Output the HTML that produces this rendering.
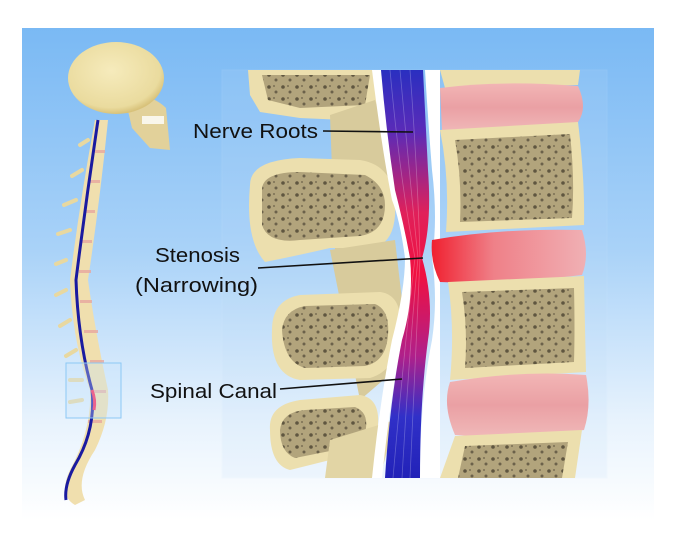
<!DOCTYPE html>
<html><head><meta charset="utf-8"><style>
html,body{margin:0;padding:0;background:#fff;}
svg{display:block;}
text{font-family:"Liberation Sans",sans-serif;fill:#111;}
</style></head><body>
<svg width="676" height="541" viewBox="0 0 676 541" xmlns="http://www.w3.org/2000/svg">
<defs>
<linearGradient id="bg" x1="0" y1="0" x2="0" y2="1">
<stop offset="0" stop-color="#7ab9f4"/><stop offset="0.45" stop-color="#a9d2f8"/><stop offset="0.8" stop-color="#e8f3fd"/><stop offset="1" stop-color="#ffffff"/>
</linearGradient>
<linearGradient id="cord" x1="0" y1="0" x2="0" y2="1">
<stop offset="0" stop-color="#2a2fc0"/><stop offset="0.15" stop-color="#5a2bb8"/><stop offset="0.35" stop-color="#e0205a"/><stop offset="0.5" stop-color="#f01040"/><stop offset="0.7" stop-color="#b0208a"/><stop offset="0.85" stop-color="#3030c8"/><stop offset="1" stop-color="#2222b8"/>
</linearGradient>
<linearGradient id="disc" x1="0" y1="0" x2="0" y2="1">
<stop offset="0" stop-color="#f2b5b5"/><stop offset="0.5" stop-color="#eaa0a4"/><stop offset="1" stop-color="#f0b8b8"/>
</linearGradient>
<linearGradient id="disc2" x1="0" y1="0" x2="1" y2="0">
<stop offset="0" stop-color="#f02030"/><stop offset="0.4" stop-color="#ef8088"/><stop offset="1" stop-color="#f0b0b4"/>
</linearGradient>
<radialGradient id="skull" cx="0.45" cy="0.4" r="0.6">
<stop offset="0" stop-color="#f6ebbc"/><stop offset="0.85" stop-color="#eadb9e"/><stop offset="1" stop-color="#d8c27a"/>
</radialGradient>
<pattern id="dots" width="14" height="12" patternUnits="userSpaceOnUse">
<rect width="14" height="12" fill="#b2a47c"/><circle cx="3" cy="3" r="1.8" fill="#5f5640"/><circle cx="10" cy="8" r="1.5" fill="#6b614a"/><circle cx="8" cy="2" r="1" fill="#7a6f55"/>
</pattern>
</defs>
<rect x="22" y="28" width="632" height="492" fill="url(#bg)"/>
<rect x="222" y="70" width="385" height="408" fill="#bfdcf8" opacity="0.15" stroke="#d8ebfc" stroke-width="1"/>

<!-- left processes -->
<path d="M248,70 L380,70 L378,110 L345,120 L300,118 L260,112 L250,95 Z" fill="#ecdfae"/>
<path d="M262,75 L370,75 L365,105 L300,108 L268,100 Z" fill="url(#dots)"/>
<path d="M330,115 L375,100 L392,150 L395,200 L385,240 L350,270 L335,250 Z" fill="#d8cb9c"/>
<path d="M250,185 Q250,160 300,158 L360,160 Q392,165 395,200 Q398,245 370,248 L330,248 Q300,255 265,262 Q245,240 250,185 Z" fill="#ecdfae"/>
<path d="M262,190 Q262,172 300,172 L365,175 Q385,185 385,205 Q385,232 360,236 L300,240 Q268,244 262,225 Z" fill="url(#dots)"/>
<path d="M330,250 L395,240 L402,300 L395,370 L360,400 L340,300 Z" fill="#d8cb9c"/>
<path d="M272,330 Q272,300 300,295 L380,292 Q403,295 400,330 Q398,370 370,378 L300,380 Q270,375 272,330 Z" fill="#ecdfae"/>
<path d="M282,330 Q284,310 305,306 L375,304 Q390,310 388,335 Q386,362 365,366 L305,368 Q284,362 282,330 Z" fill="url(#dots)"/>
<path d="M270,430 Q268,405 300,400 L360,395 Q380,398 378,425 Q376,450 350,455 L290,470 Q270,465 270,430 Z" fill="#ecdfae"/>
<path d="M280,430 Q282,412 305,410 L355,407 Q368,412 366,428 Q364,445 345,448 L295,458 Q280,452 280,430 Z" fill="url(#dots)"/>
<path d="M330,440 L395,420 L380,478 L325,478 Z" fill="#e2d5a5"/>

<!-- canal -->
<path d="M372,70 L386,70 Q392,150 404,200 Q418,240 420,258 Q418,300 402,340 Q390,400 382,478 L372,478 Q380,400 392,340 Q405,290 405,258 Q400,220 392,200 Q382,150 372,70 Z" fill="#fff"/>
<path d="M425,70 L440,70 L440,478 L420,478 Q420,400 432,340 Q438,300 432,258 Q438,220 432,170 Q428,120 425,70 Z" fill="#fff"/>
<path d="M381,70 L423,70 Q426,130 428,170 Q432,225 422,258 Q434,300 428,340 Q420,400 420,478 L385,478 Q390,400 402,340 Q414,300 410,258 Q404,225 395,190 Q386,130 381,70 Z" fill="url(#cord)"/>
<g stroke="#ffffff" stroke-opacity="0.25" stroke-width="0.8" fill="none">
<path d="M390,70 Q400,180 415,258 Q405,340 393,478"/>
<path d="M400,70 Q410,180 418,258 Q410,340 402,478"/>
<path d="M410,70 Q418,180 420,258 Q416,340 410,478"/>
</g>

<!-- right vertebrae -->
<path d="M440,70 L580,70 L578,85 L445,88 Z" fill="#ecdfae"/>
<path d="M440,88 Q500,80 578,86 Q588,108 578,122 Q500,135 442,130 Z" fill="url(#disc)"/>
<path d="M440,130 L578,122 Q585,180 584,225 L446,232 Q450,180 440,130 Z" fill="#ecdfae"/>
<path d="M455,140 L570,134 Q575,180 572,218 L460,222 Q462,180 455,140 Z" fill="url(#dots)"/>
<path d="M432,240 Q500,228 582,230 Q590,255 582,275 Q500,285 440,282 Q430,262 432,240 Z" fill="url(#disc2)"/>
<path d="M448,282 L584,276 Q585,330 586,372 L450,380 Q455,330 448,282 Z" fill="#ecdfae"/>
<path d="M462,292 L574,288 Q575,330 574,362 L465,368 Q468,330 462,292 Z" fill="url(#dots)"/>
<path d="M450,382 Q520,370 586,375 Q592,405 584,430 Q520,440 455,435 Q442,405 450,382 Z" fill="url(#disc)"/>
<path d="M455,436 L582,430 L575,478 L440,478 Z" fill="#ecdfae"/>
<path d="M465,446 L568,442 L562,478 L458,478 Z" fill="url(#dots)"/>

<!-- left skeleton -->
<path d="M95,120 Q80,200 70,280 Q72,340 90,390 Q92,430 70,470 Q58,495 75,505 L85,500 Q75,480 95,450 Q110,420 108,390 Q95,330 88,280 Q100,200 108,120 Z" fill="#f0dfae"/>
<g fill="#e8a8a0" opacity="0.8">
<rect x="95" y="150" width="10" height="3"/><rect x="90" y="180" width="10" height="3"/><rect x="84" y="210" width="11" height="3"/><rect x="80" y="240" width="12" height="3"/><rect x="79" y="270" width="12" height="3"/><rect x="80" y="300" width="12" height="3"/><rect x="84" y="330" width="14" height="3"/><rect x="90" y="360" width="14" height="3"/><rect x="92" y="390" width="14" height="3"/><rect x="88" y="420" width="14" height="3"/>
</g>
<g stroke="#e8d8a0" stroke-width="4" stroke-linecap="round">
<line x1="88" y1="140" x2="80" y2="145"/><line x1="82" y1="170" x2="72" y2="176"/><line x1="76" y1="200" x2="64" y2="205"/><line x1="70" y1="230" x2="58" y2="234"/><line x1="66" y1="260" x2="56" y2="264"/><line x1="66" y1="290" x2="56" y2="295"/><line x1="70" y1="320" x2="60" y2="326"/><line x1="76" y1="350" x2="66" y2="356"/><line x1="82" y1="380" x2="70" y2="380"/><line x1="82" y1="400" x2="70" y2="402"/>
</g>
<path d="M98,120 Q86,200 76,280 Q78,340 92,390 Q96,430 75,465 Q64,485 66,500" stroke="#1a1aa0" stroke-width="3" fill="none"/>
<path d="M92,390 Q96,400 94,410" stroke="#ff2050" stroke-width="3" fill="none"/>
<rect x="66" y="363" width="55" height="55" fill="#c8e4fb" fill-opacity="0.35" stroke="#8cc8f5" stroke-width="1"/>
<path d="M125,98 Q150,92 166,108 L170,150 L150,148 L132,128 Z" fill="#e2d19a"/>
<ellipse cx="116" cy="78" rx="48" ry="36" fill="url(#skull)"/>
<rect x="142" y="116" width="22" height="8" fill="#fff" opacity="0.8"/>

<!-- labels -->
<text x="193" y="138" font-size="20" textLength="125" lengthAdjust="spacingAndGlyphs">Nerve Roots</text>
<line x1="323" y1="131" x2="413" y2="132" stroke="#111" stroke-width="1.6"/>
<text x="155" y="262" font-size="20" textLength="85" lengthAdjust="spacingAndGlyphs">Stenosis</text>
<text x="135" y="292" font-size="20" textLength="123" lengthAdjust="spacingAndGlyphs">(Narrowing)</text>
<line x1="258" y1="268" x2="423" y2="258" stroke="#111" stroke-width="1.6"/>
<text x="150" y="398" font-size="20" textLength="127" lengthAdjust="spacingAndGlyphs">Spinal Canal</text>
<line x1="280" y1="389" x2="402" y2="379" stroke="#111" stroke-width="1.6"/>
</svg>
</body></html>
